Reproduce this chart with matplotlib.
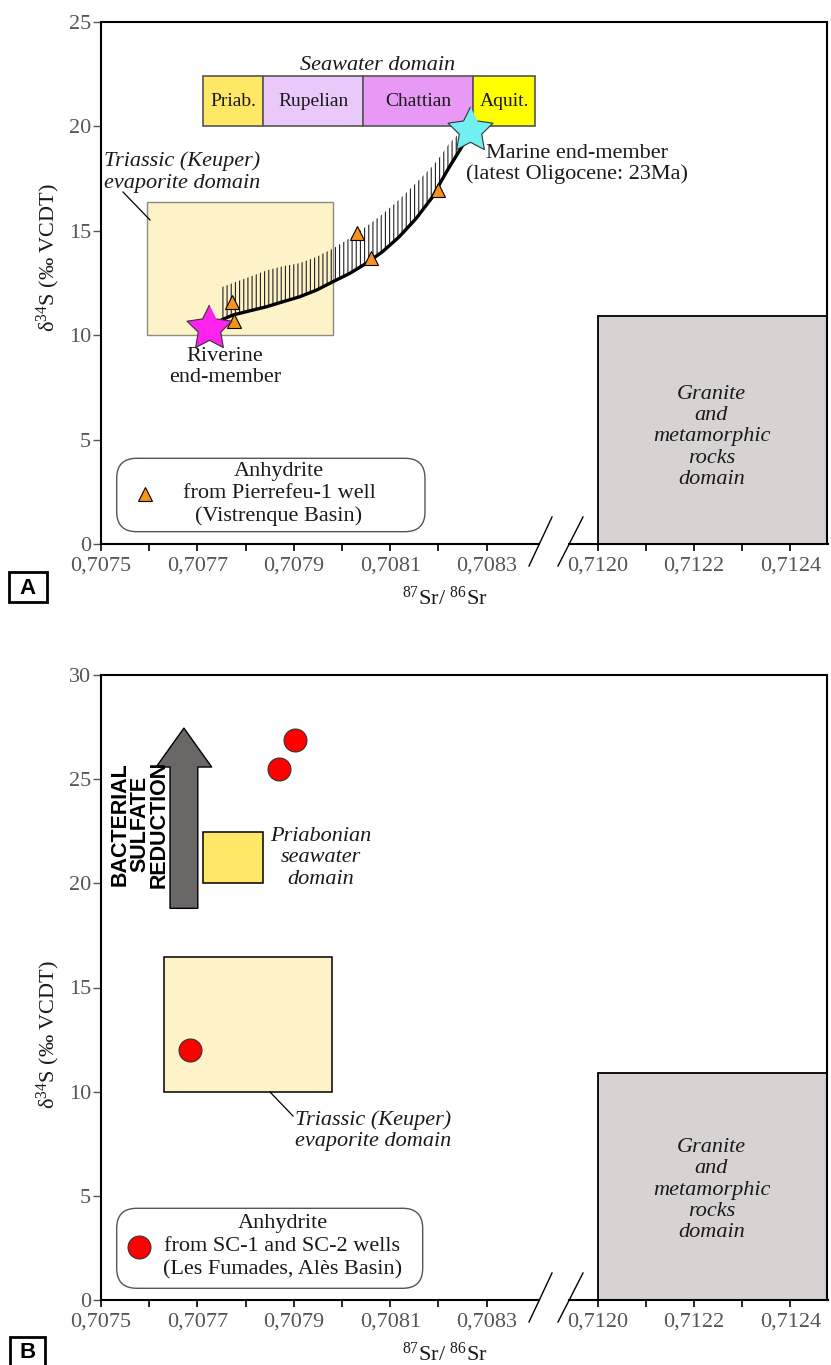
import numpy as np
import matplotlib
matplotlib.use("Agg")
import matplotlib.pyplot as plt
from matplotlib.patches import Rectangle, FancyBboxPatch
from matplotlib.transforms import Affine2D
from matplotlib.lines import Line2D

plt.rcParams["font.family"] = ["Liberation Serif", "DejaVu Serif"]
plt.rcParams["mathtext.fontset"] = "custom"
plt.rcParams["mathtext.rm"] = "Liberation Serif"
plt.rcParams["mathtext.it"] = "Liberation Serif:italic"
plt.rcParams["hatch.linewidth"] = 0.8

# ---------------- data ----------------
# Panel A: anhydrite from Pierrefeu-1 well (Vistrenque Basin)
pierrefeu_sr = [0.707771, 0.707776, 0.708031, 0.708060, 0.708200]
pierrefeu_s = [11.6, 10.7, 14.9, 13.7, 16.95]

riverine_sr, riverine_s = 0.707723, 10.35
marine_sr, marine_s = 0.708266, 19.85

# mixing trend between the two end-members (lower bound) and upper bound of the field
mix_sr = [0.707750, 0.707774, 0.707809, 0.707843, 0.707877, 0.707912, 0.707947,
          0.707981, 0.708016, 0.708050, 0.708084, 0.708119, 0.708154, 0.708188,
          0.708205, 0.708223, 0.708240, 0.708257]
mix_s_low = [10.73, 10.97, 11.17, 11.36, 11.60, 11.84, 12.16, 12.56, 12.96,
             13.44, 14.00, 14.72, 15.60, 16.63, 17.35, 18.07, 18.70, 19.35]
mix_s_high = [12.3, 12.5, 12.8, 13.1, 13.3, 13.45, 13.75, 14.15, 14.65,
              15.2, 15.8, 16.5, 17.3, 18.1, 18.6, 19.2, 19.6, 19.7]

# Oligocene seawater stages
stage_names = ["Priab.", "Rupelian", "Chattian", "Aquit."]
stage_edges = [0.707712, 0.707836, 0.708044, 0.708271, 0.708401]
stage_colors = ["#FFE866", "#EBC8FA", "#E898F5", "#FFFF00"]
seawater_s = (20.0, 22.4)

triassic_a_sr = (0.707595, 0.707982)
triassic_a_s = (10.0, 16.4)

# Panel B: anhydrite from SC-1 and SC-2 wells (Les Fumades, Alès Basin)
fumades_sr = [0.707902, 0.707869, 0.707684]
fumades_s = [26.9, 25.5, 12.0]

priabonian_sr = (0.707712, 0.707836)
priabonian_s = (20.0, 22.45)
triassic_b_sr = (0.707631, 0.707979)
triassic_b_s = (10.0, 16.45)
bsr_sr = 0.707672
bsr_s = (18.8, 27.45)

# common domain / axis settings
granite_sr_min = 0.7120
granite_s_max = 10.9
x_limits = (0.7075, 0.712476)
xticks_major = [0.7075, 0.7077, 0.7079, 0.7081, 0.7083, 0.7120, 0.7122, 0.7124]
xtick_labels = ["0,7075", "0,7077", "0,7079", "0,7081", "0,7083",
                "0,7120", "0,7122", "0,7124"]
xticks_minor = [0.7076, 0.7078, 0.7080, 0.7082, 0.7121, 0.7123]

# ---------------- broken Sr scale ----------------
X_SHIFT = 0.7120 - 0.70853


def sr_forward(x):
    x = np.asarray(x, dtype=float)
    return np.where(x > 0.7100, x - X_SHIFT, x)


def sr_inverse(p):
    p = np.asarray(p, dtype=float)
    return np.where(p > 0.70852, p + X_SHIFT, p)


# plump five-pointed star used for the end-members
_ang = np.deg2rad(90 + 36 * np.arange(10))
_rad = np.where(np.arange(10) % 2 == 0, 1.0, 0.5)
STAR = list(zip(_rad * np.cos(_ang), _rad * np.sin(_ang)))

W, H = 831, 1365
fig = plt.figure(figsize=(W / 100, H / 100), dpi=100)
# pixel coordinates measured from the top-left corner
PX = Affine2D().scale(1 / 100, -1 / 100).translate(0, H / 100) + fig.dpi_scale_trans

TXT = "#1A1A1A"
TICK = "#555555"


def make_axes(top_px, bottom_px, ymax):
    ax = fig.add_axes([101 / W, 1 - bottom_px / H, 726 / W, (bottom_px - top_px) / H])
    ax.set_xscale("function", functions=(sr_forward, sr_inverse))
    ax.set_xlim(*x_limits)
    ax.set_ylim(0, ymax)
    ax.set_xticks(xticks_major)
    ax.set_xticklabels(xtick_labels)
    ax.set_xticks(xticks_minor, minor=True)
    ax.set_yticks(np.arange(0, ymax + 1, 5))
    ax.tick_params(axis="x", which="both", direction="out", length=5, width=1.2,
                   pad=4, labelsize=16, labelcolor=TICK, color="k")
    ax.tick_params(axis="y", direction="out", length=5.5, width=1.0,
                   pad=1.5, labelsize=16, labelcolor=TICK, color="#555555")
    for side in ("left", "top", "right"):
        ax.spines[side].set_linewidth(1.5)
    ax.spines["bottom"].set_visible(False)
    # bottom axis with the break
    base = bottom_px
    for x0, x1 in ((101, 539), (569, 827.5)):
        fig.add_artist(Line2D([x0, x1], [base, base], transform=PX, color="k", lw=1.5))
    for x0, x1 in ((529, 552), (558, 583)):
        fig.add_artist(Line2D([x0, x1], [base + 22, base - 27], transform=PX,
                              color="k", lw=1.0))
    # gray basement domain
    ax.add_patch(Rectangle((granite_sr_min, 0), x_limits[1] - granite_sr_min,
                           granite_s_max, facecolor="#D8D2D2", edgecolor="k",
                           lw=1.3, zorder=1))
    # axis labels
    fig.text(445, bottom_px + 54, "$^{87}$Sr/ $^{86}$Sr", transform=PX, ha="center",
             va="center", fontsize=16, color=TXT)
    return ax


def granite_label(cy):
    fig.text(711.5, cy, "Granite\nand\nmetamorphic\nrocks\ndomain", transform=PX,
             ha="center", va="center", fontsize=16, style="italic",
             linespacing=1.16, color=TXT)


def legend_box(x0, y0, x1, y1):
    fig.add_artist(FancyBboxPatch((x0 / 100, (H - y1) / 100), (x1 - x0) / 100,
                                  (y1 - y0) / 100,
                                  boxstyle="round,pad=0,rounding_size=0.2",
                                  transform=fig.dpi_scale_trans, facecolor="white",
                                  edgecolor="#555555", lw=1.0))


def panel_letter(x0, y0, x1, y1, letter):
    fig.add_artist(Rectangle((x0 / 100, (H - y1) / 100), (x1 - x0) / 100,
                             (y1 - y0) / 100, transform=fig.dpi_scale_trans,
                             facecolor="none", edgecolor="k", lw=2.0))
    fig.text((x0 + x1) / 2, (y0 + y1) / 2 + 1, letter, transform=PX, ha="center",
             va="center", fontsize=16, fontweight="bold",
             family=["Liberation Sans", "DejaVu Sans"], color="k")


# ================= Panel A =================
axA = make_axes(22, 544, 25)
fig.text(48, 258, "δ$^{34}$S (‰ VCDT)", transform=PX, rotation=90, ha="center",
         va="center", fontsize=16, color=TXT)

# seawater bar
for name, x0, x1, c in zip(stage_names, stage_edges[:-1], stage_edges[1:], stage_colors):
    axA.add_patch(Rectangle((x0, seawater_s[0]), x1 - x0, seawater_s[1] - seawater_s[0],
                            facecolor=c, edgecolor="#555555", lw=1.2, zorder=2))
    xm = sr_inverse((sr_forward(x0) + sr_forward(x1)) / 2)
    axA.text(float(xm), np.mean(seawater_s), name, ha="center", va="center",
             fontsize=14, color=TXT, zorder=3)
fig.text(378, 65, "Seawater domain", transform=PX, ha="center", va="center",
         fontsize=16, style="italic", color=TXT)

# Triassic evaporite domain
axA.add_patch(Rectangle((triassic_a_sr[0], triassic_a_s[0]),
                        triassic_a_sr[1] - triassic_a_sr[0],
                        triassic_a_s[1] - triassic_a_s[0],
                        facecolor="#FDF2C8", edgecolor="#8C8C80", lw=1.0, zorder=1))
fig.text(104, 172, "Triassic (Keuper)\nevaporite domain", transform=PX, ha="left",
         va="center", fontsize=16, style="italic", linespacing=1.25, color=TXT)
fig.add_artist(Line2D([123, 150], [192, 220], transform=PX, color="k", lw=0.9))

# mixing field and trend
axA.fill_between(mix_sr, mix_s_low, mix_s_high, facecolor="none", edgecolor="#222222",
                 hatch="||||", linewidth=0, zorder=2)
axA.plot(mix_sr, mix_s_low, color="k", lw=2.4, solid_capstyle="round", zorder=3)

axA.plot(pierrefeu_sr, pierrefeu_s, linestyle="none", marker="^", ms=10,
         mfc="#F7941D", mec="k", mew=0.8, zorder=5)
axA.plot(riverine_sr, riverine_s, marker=STAR, ms=34, mfc="#FF22EE", mec="#333333",
         mew=0.8, zorder=6)
axA.plot(marine_sr, marine_s, marker=STAR, ms=34, mfc="#70F0F0", mec="#333333",
         mew=0.8, zorder=6)

fig.text(225, 367, "Riverine\nend-member", transform=PX, ha="center", va="center",
         fontsize=16, linespacing=1.15, color=TXT)
fig.text(577, 164, "Marine end-member\n(latest Oligocene: 23Ma)", transform=PX,
         ha="center", va="center", fontsize=16, linespacing=1.14, color=TXT)

granite_label(437)

legend_box(116.7, 458.3, 425, 531.7)
fig.add_artist(Line2D([145], [494], transform=PX, marker="^", ms=10, mfc="#F7941D",
                      mec="k", mew=0.8, linestyle="none"))
fig.text(279, 494, "Anhydrite\nfrom Pierrefeu-1 well\n(Vistrenque Basin)", transform=PX,
         ha="center", va="center", fontsize=16, linespacing=1.21, color=TXT)

panel_letter(9, 572, 47, 602, "A")

# ================= Panel B =================
axB = make_axes(675, 1300, 30)
fig.text(48, 1035, "δ$^{34}$S (‰ VCDT)", transform=PX, rotation=90, ha="center",
         va="center", fontsize=16, color=TXT)

axB.add_patch(Rectangle((triassic_b_sr[0], triassic_b_s[0]),
                        triassic_b_sr[1] - triassic_b_sr[0],
                        triassic_b_s[1] - triassic_b_s[0],
                        facecolor="#FDF2C8", edgecolor="k", lw=1.1, zorder=1))
fig.add_artist(Line2D([270, 293], [1092, 1116], transform=PX, color="k", lw=0.9))
fig.text(295, 1131, "Triassic (Keuper)\nevaporite domain", transform=PX, ha="left",
         va="center", fontsize=16, style="italic", linespacing=1.14, color=TXT)

axB.add_patch(Rectangle((priabonian_sr[0], priabonian_s[0]),
                        priabonian_sr[1] - priabonian_sr[0],
                        priabonian_s[1] - priabonian_s[0],
                        facecolor="#FFE866", edgecolor="k", lw=1.1, zorder=2))
fig.text(321, 858, "Priabonian\nseawater\ndomain", transform=PX, ha="center",
         va="center", fontsize=16, style="italic", linespacing=1.2, color=TXT)

axB.annotate("", xy=(bsr_sr, bsr_s[1]), xytext=(bsr_sr, bsr_s[0]),
             arrowprops=dict(arrowstyle="simple,head_length=1.4,head_width=2.0,tail_width=1.0",
                             facecolor="#6B6767", edgecolor="k", lw=1.0,
                             mutation_scale=20, shrinkA=0, shrinkB=0),
             zorder=3)
fig.text(140, 824, "BACTERIAL\nSULFATE\nREDUCTION", transform=PX, rotation=90,
         ha="center", va="center", multialignment="center", fontsize=15.5,
         fontweight="bold", family=["Liberation Sans", "DejaVu Sans"],
         linespacing=0.9, color="k")

axB.plot(fumades_sr, fumades_s, linestyle="none", marker="o", ms=16.5,
         mfc="#FF0000", mec="#333333", mew=0.8, zorder=5)

granite_label(1190)

legend_box(116.7, 1208.3, 422.7, 1288.3)
fig.add_artist(Line2D([139.3], [1246.7], transform=PX, marker="o", ms=16.5,
                      mfc="#FF0000", mec="#333333", mew=0.8, linestyle="none"))
fig.text(282.5, 1247, "Anhydrite\nfrom SC-1 and SC-2 wells\n(Les Fumades, Alès Basin)",
         transform=PX, ha="center", va="center", fontsize=16, linespacing=1.29,
         color=TXT)

panel_letter(10, 1337, 45, 1367, "B")

fig.savefig("out.png", dpi=100)
